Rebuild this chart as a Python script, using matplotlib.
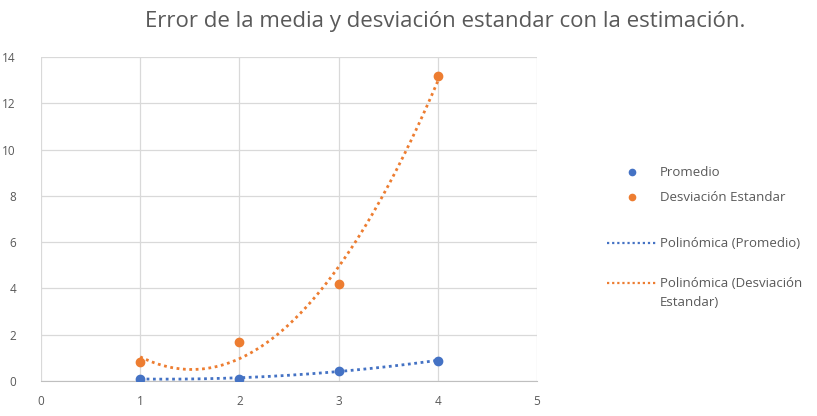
import numpy as np
import matplotlib.pyplot as plt
from matplotlib.lines import Line2D

# Datos
x = [1, 2, 3, 4]
promedio = [0.10, 0.10, 0.45, 0.88]
desviacion = [0.80, 1.70, 4.20, 13.20]

c_prom = '#4472C4'
c_desv = '#ED7D31'
gris = '#595959'
W, H = 817, 416

plt.rcParams['font.family'] = ['Open Sans', 'DejaVu Sans']

fig = plt.figure(figsize=(W / 100, H / 100), dpi=100)
ax = fig.add_axes([41 / W, 1 - 381 / H, (537 - 41) / W, (381 - 57) / H])

# Lineas de tendencia polinomicas (orden 2)
xs = np.linspace(1, 4, 200)
fit_p = np.polyval(np.polyfit(x, promedio, 2), xs)
fit_d = np.polyval(np.polyfit(x, desviacion, 2), xs)
dots = (0, (1, 1.3))
ax.plot(xs, fit_p, color=c_prom, linestyle=dots, linewidth=2, zorder=3)
ax.plot(xs, fit_d, color=c_desv, linestyle=dots, linewidth=2, zorder=3)

ax.plot(x, promedio, 'o', color=c_prom, markersize=6, zorder=4)
ax.plot(x, desviacion, 'o', color=c_desv, markersize=6, zorder=4)

ax.set_xlim(0, 5)
ax.set_ylim(0, 14)
ax.set_xticks(range(0, 6))
ax.set_yticks(range(0, 15, 2))
ax.grid(True, color='#D9D9D9', linewidth=0.9)
ax.set_axisbelow(True)
for s in ['top', 'right', 'left']:
    ax.spines[s].set_visible(False)
ax.spines['bottom'].set_color('#BFBFBF')
ax.tick_params(length=0, labelsize=8.5, colors=gris, pad=10)
ax.tick_params(axis='y', pad=18)

fig.text(445 / W, 1 - 22 / H, 'Error de la media y desviación estandar con la estimación.',
         ha='center', va='center', fontsize=16, color=gris)

# Leyenda a mano (posiciones como en Excel)
entries = [
    ('marker', c_prom, 'Promedio', 172),
    ('marker', c_desv, 'Desviación Estandar', 197),
    ('line', c_prom, 'Polinómica (Promedio)', 243),
    ('line', c_desv, 'Polinómica (Desviación\nEstandar)', 283),
]
for kind, col, lab, yp in entries:
    yf = 1 - yp / H
    if kind == 'marker':
        fig.add_artist(Line2D([632 / W], [yf], marker='o', color=col,
                              linestyle='none', markersize=4.5))
    else:
        fig.add_artist(Line2D([607 / W, 657 / W], [yf, yf], color=col,
                              linestyle=(0, (1, 1.3)), linewidth=1.6))
    fig.text(660 / W, yf + 0.014, lab, ha='left', va='top', fontsize=9.5,
             color=gris, linespacing=1.6)

fig.savefig('out.png', dpi=100)
